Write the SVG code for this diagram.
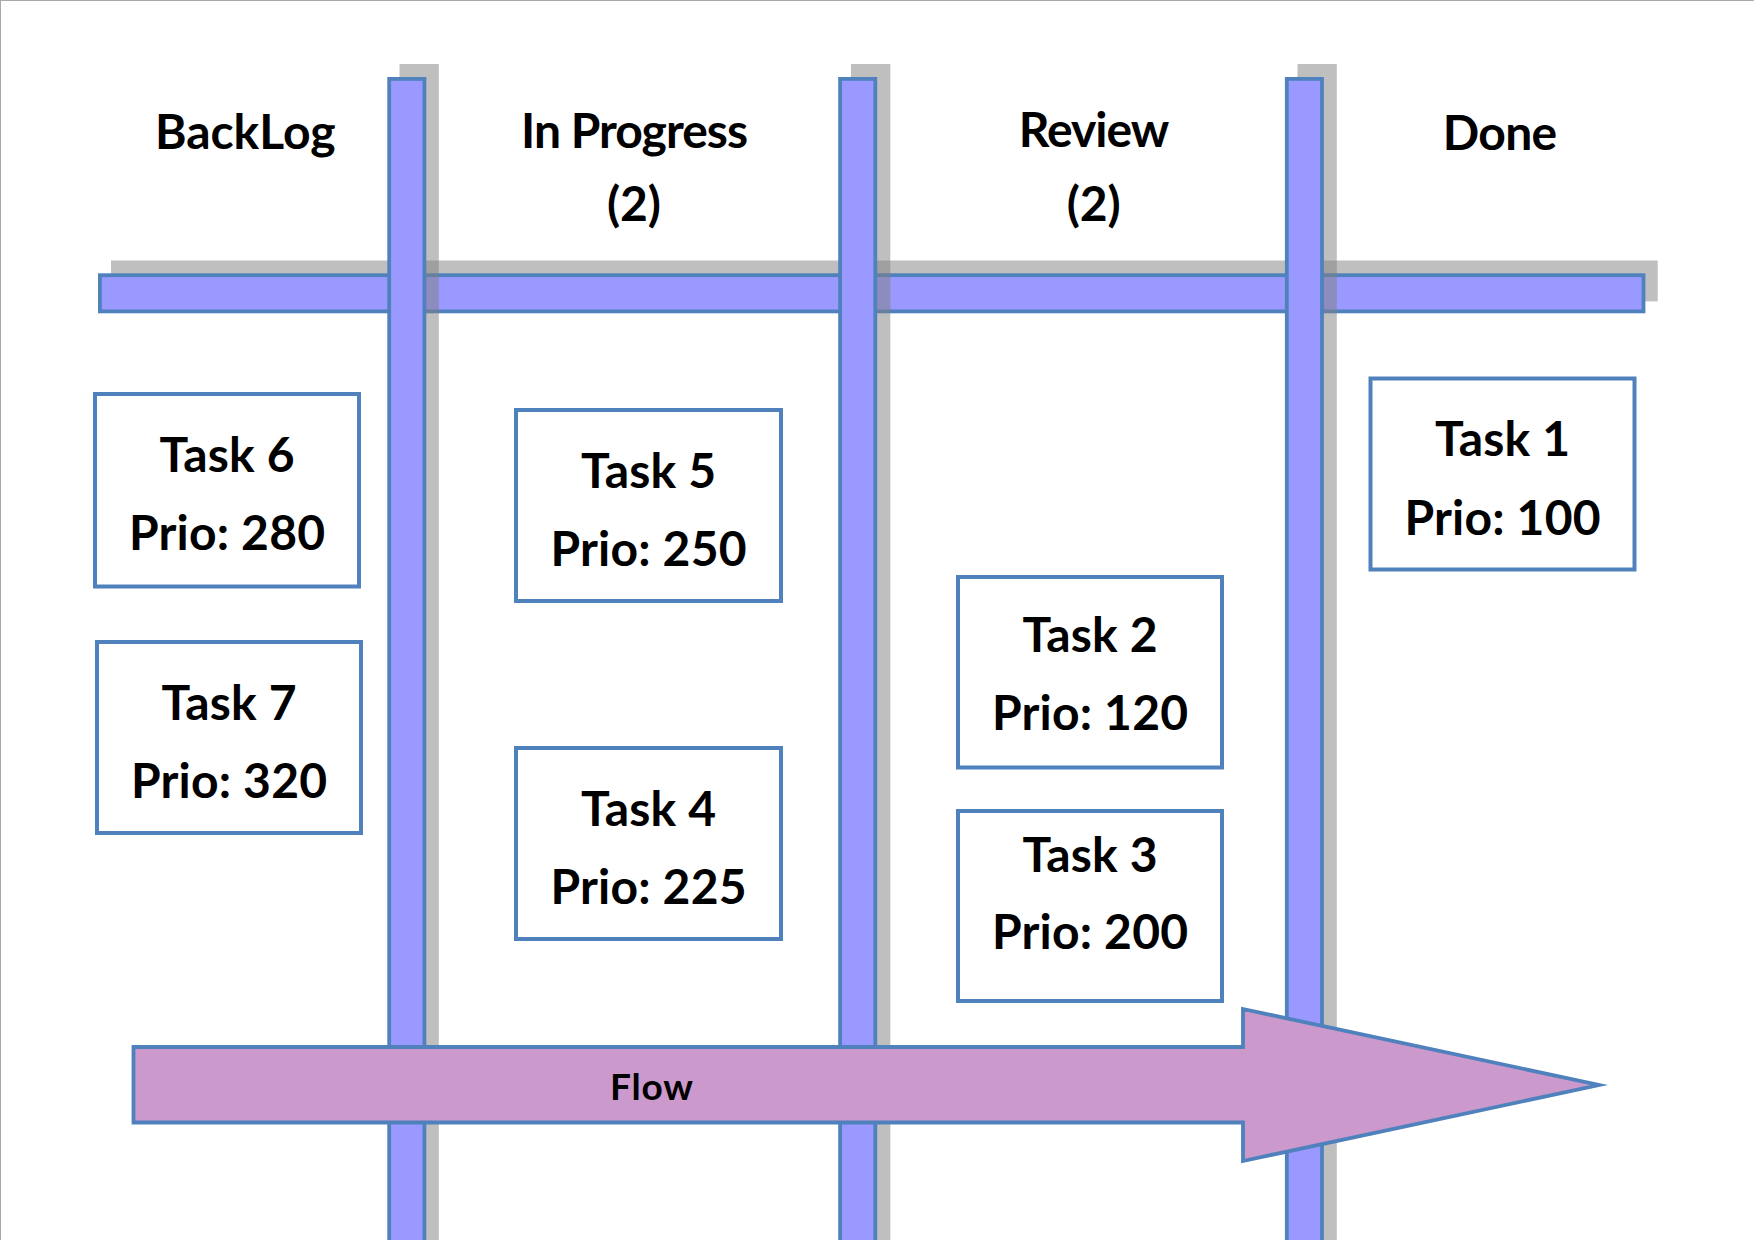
<svg xmlns="http://www.w3.org/2000/svg" width="1754" height="1240" viewBox="0 0 1754 1240">
  <style>
    .shadow { fill: #808080; fill-opacity: 0.5; }
    .bar { fill: #9999ff; stroke: #4f81bd; stroke-width: 3.8; }
    .box { fill: #ffffff; stroke: #4f81bd; stroke-width: 4; }
    .t { font-family: Lato, "Liberation Sans", sans-serif; font-weight: bold; font-size: 48px; fill: #000000; text-anchor: middle; }
    .flow { fill: #cc99cc; stroke: #4f81bd; stroke-width: 3.8; stroke-miterlimit: 10; }
    .ft { font-family: Lato, "Liberation Sans", sans-serif; font-weight: bold; font-size: 37px; fill: #000000; text-anchor: middle; }
  </style>
  <rect x="0" y="0" width="1754" height="1240" fill="#ffffff"/>
  <g id="frame">
    <line x1="0" y1="0.5" x2="1754" y2="0.5" stroke="#aaaaaa" stroke-width="1"/>
    <line x1="0.5" y1="0" x2="0.5" y2="1240" stroke="#aaaaaa" stroke-width="1"/>
  </g>
  <g id="header-bar">
    <rect class="shadow" x="111" y="260.5" width="1546.7" height="40.8"/>
    <rect class="bar" x="99.9" y="275.2" width="1543.6" height="36.2"/>
  </g>
  <g id="lane-dividers">
    <rect class="shadow" x="399.5" y="64" width="39.3" height="1180"/>
    <rect class="shadow" x="851" y="64" width="39.3" height="1180"/>
    <rect class="shadow" x="1297.5" y="64" width="39.3" height="1180"/>
    <rect class="bar" x="389.2" y="78.9" width="35.2" height="1170"/>
    <rect class="bar" x="840.1" y="78.9" width="35.2" height="1170"/>
    <rect class="bar" x="1286.8" y="78.9" width="35.2" height="1170"/>
  </g>
  <g id="headers">
    <text class="t" x="245.3" y="149" textLength="180.6">BackLog</text>
    <text class="t" x="634.5" y="148" textLength="227">In Progress</text>
    <text class="t" x="634" y="221" textLength="54">(2)</text>
    <text class="t" x="1094" y="147" textLength="150.7">Review</text>
    <text class="t" x="1093.7" y="221" textLength="54">(2)</text>
    <text class="t" x="1500" y="150" textLength="114.4">Done</text>
  </g>
  <g id="task6">
    <rect class="box" x="95" y="394" width="264" height="192.5"/>
    <text class="t" x="227" y="472" textLength="135">Task 6</text>
    <text class="t" x="227" y="549.5" textLength="196">Prio: 280</text>
  </g>
  <g id="task7">
    <rect class="box" x="97" y="642" width="264" height="191"/>
    <text class="t" x="229" y="719.5" textLength="135">Task 7</text>
    <text class="t" x="229" y="798" textLength="196">Prio: 320</text>
  </g>
  <g id="task5">
    <rect class="box" x="516" y="410" width="265" height="191"/>
    <text class="t" x="648.5" y="487.5" textLength="135">Task 5</text>
    <text class="t" x="648.5" y="566" textLength="196">Prio: 250</text>
  </g>
  <g id="task4">
    <rect class="box" x="516" y="748" width="265" height="191"/>
    <text class="t" x="648.5" y="825.5" textLength="135">Task 4</text>
    <text class="t" x="648.5" y="904" textLength="196">Prio: 225</text>
  </g>
  <g id="task2">
    <rect class="box" x="958" y="577" width="264" height="190.5"/>
    <text class="t" x="1090" y="651.5" textLength="135">Task 2</text>
    <text class="t" x="1090" y="730" textLength="196">Prio: 120</text>
  </g>
  <g id="task3">
    <rect class="box" x="958" y="811" width="264" height="190"/>
    <text class="t" x="1090" y="872" textLength="135">Task 3</text>
    <text class="t" x="1090" y="948.5" textLength="196">Prio: 200</text>
  </g>
  <g id="task1">
    <rect class="box" x="1370.5" y="378.5" width="264" height="191"/>
    <text class="t" x="1502.5" y="456" textLength="135">Task 1</text>
    <text class="t" x="1502.5" y="534.5" textLength="196">Prio: 100</text>
  </g>
  <g id="flow-arrow">
    <polygon class="flow" points="133.5,1047 1243,1047 1243,1009 1599,1085 1243,1161 1243,1122.5 133.5,1122.5"/>
    <text class="ft" x="651.5" y="1100" textLength="83">Flow</text>
  </g>
</svg>
